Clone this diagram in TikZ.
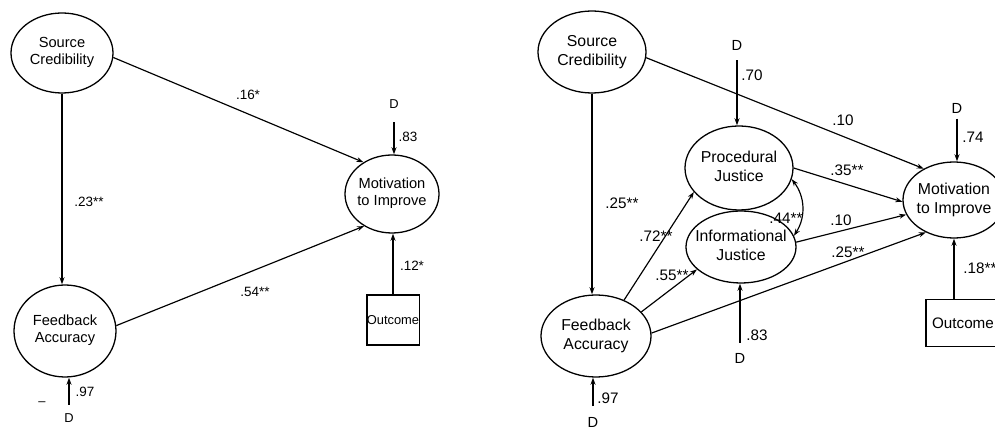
\documentclass[tikz,border=0pt]{standalone}
\usepackage{fontspec}
\setmainfont{Liberation Sans}
\usetikzlibrary{arrows.meta,shapes.geometric}
% two centred lines that do not widen the ellipse around them
\newcommand{\twoline}[2]{\makebox[0pt]{\begin{tabular}{@{}c@{}}#1\\#2\end{tabular}}}
\begin{document}
\begin{tikzpicture}[x=0.03cm,y=-0.03cm,
  latentL/.style={ellipse,draw,line width=1.1pt,inner sep=0pt,
    font=\fontsize{12.5}{14.5}\selectfont},
  latentR/.style={ellipse,draw,line width=1.1pt,inner sep=0pt,
    font=\fontsize{13.5}{17}\selectfont},
  observed/.style={rectangle,draw,line width=1.1pt,inner sep=0pt},
  arc/.style={line width=1pt,-{Stealth[length=6pt,width=4.2pt]}},
  coefL/.style={font=\fontsize{11.5}{13}\selectfont,inner sep=1pt},
  coefR/.style={font=\fontsize{13}{15}\selectfont,inner sep=1pt},
  distL/.style={font=\fontsize{11}{12}\selectfont,inner sep=1pt},
  distR/.style={font=\fontsize{12.5}{14}\selectfont,inner sep=1pt},
]
\useasboundingbox (0,0) rectangle (995,432);

% ---------------- left model ----------------
\node[latentL,minimum width=3.06cm,minimum height=2.4cm] (lsc) at (62,53) {\twoline{Source}{Credibility}};
\node[latentL,minimum width=3.06cm,minimum height=2.76cm] (lfa) at (65,331) {\twoline{Feedback}{Accuracy}};
\node[latentL,minimum width=2.82cm,minimum height=2.34cm] (lmi) at (392,194) {\twoline{Motivation}{to Improve}};
\node[observed,minimum width=1.56cm,minimum height=1.5cm,font=\fontsize{11}{12}\selectfont] (lout) at (393,320) {Outcome};
\node[distL] (ldm) at (394,104) {D};
\node[distL] (ldfa) at (69,418) {D};
\node[distL] (ldash) at (42,404) {–};

\draw[arc] (lsc.south) -- (lsc.south |- lfa.north);
\draw[arc] (lsc.-5) -- (lmi.132);
\draw[arc] (lfa.6) -- (lmi.229);
\draw[arc] (lout.north) -- (lout.north |- lmi.south);
\draw[arc,shorten <=10.5pt] (ldm.south) -- (ldm.south |- lmi.north);
\draw[arc,shorten <=6.3pt] (ldfa.north) -- (ldfa.north |- lfa.south);

\node[coefL] (c1) at (248,95) {.16*};
\node[coefL] (c2) at (89,202) {.23**};
\node[coefL] (c3) at (408,137) {.83};
\node[coefL] (c4) at (412,266) {.12*};
\node[coefL] (c5) at (255,292) {.54**};
\node[coefL] (c6) at (85,392) {.97};

% ---------------- right model ----------------
\node[latentR,minimum width=3.24cm,minimum height=2.46cm] (rsc) at (592,52) {\twoline{Source}{Credibility}};
\node[latentR,minimum width=3.3cm,minimum height=2.46cm] (rfa) at (596,336) {\twoline{Feedback}{Accuracy}};
\node[latentR,minimum width=3.24cm,minimum height=2.52cm] (pj) at (739,168) {\twoline{Procedural}{Justice}};
\node[latentR,minimum width=3.3cm,minimum height=2.16cm] (ij) at (741,247) {\twoline{Informational}{Justice}};
\node[latentR,minimum width=3.06cm,minimum height=2.28cm] (rmi) at (954,200) {\twoline{Motivation}{to Improve}};
\node[observed,minimum width=2.22cm,minimum height=1.41cm,font=\fontsize{13}{15}\selectfont] (rout) at (963,323) {Outcome};
\node[distR] (dpj) at (737,45) {D};
\node[distR] (drmi) at (957,108) {D};
\node[distR] (dij) at (740,358) {D};
\node[distR] (drfa) at (593,422) {D};

\draw[arc] (rsc.south) -- (rsc.south |- rfa.north);
\draw[arc] (rsc.-6) -- (rmi.134);
\draw[arc] (pj.0) -- (rmi.182);
\draw[arc] (ij.5) -- (rmi.197);
\draw[arc] (rfa.3) -- (rmi.229);
\draw[arc] (rfa.52) -- (pj.208);
\draw[arc] (rfa.28) -- (ij.207);
\draw[line width=1pt,{Stealth[length=6pt,width=4.2pt]}-{Stealth[length=6pt,width=4.2pt]}]
  (pj.-12) to[bend left=35] (ij.12);
\draw[arc,shorten <=7.5pt] (dpj.south) -- (dpj.south |- pj.north);
\draw[arc,shorten <=3.5pt] (drmi.south) -- (drmi.south |- rmi.north);
\draw[arc] (rout.north -| rmi.south) -- (rmi.south);
\draw[arc,shorten <=7.6pt] (dij.north) -- (dij.north |- ij.south);
\draw[arc,shorten <=8pt] (drfa.north) -- (drfa.north |- rfa.south);

\node[coefR] (r1) at (752,75) {.70};
\node[coefR] (r2) at (843,120) {.10};
\node[coefR] (r3) at (973,137) {.74};
\node[coefR] (r4) at (847,170) {.35**};
\node[coefR] (r5) at (786,218) {.44**};
\node[coefR] (r6) at (841,220) {.10};
\node[coefR] (r7) at (848,252) {.25**};
\node[coefR] (r8) at (656,236) {.72**};
\node[coefR] (r9) at (672,275) {.55**};
\node[coefR] (r10) at (622,203) {.25**};
\node[coefR] (r11) at (757,335) {.83};
\node[coefR] (r12) at (608,398) {.97};
\node[coefR] (r13) at (980,268) {.18**};
\end{tikzpicture}
\end{document}
